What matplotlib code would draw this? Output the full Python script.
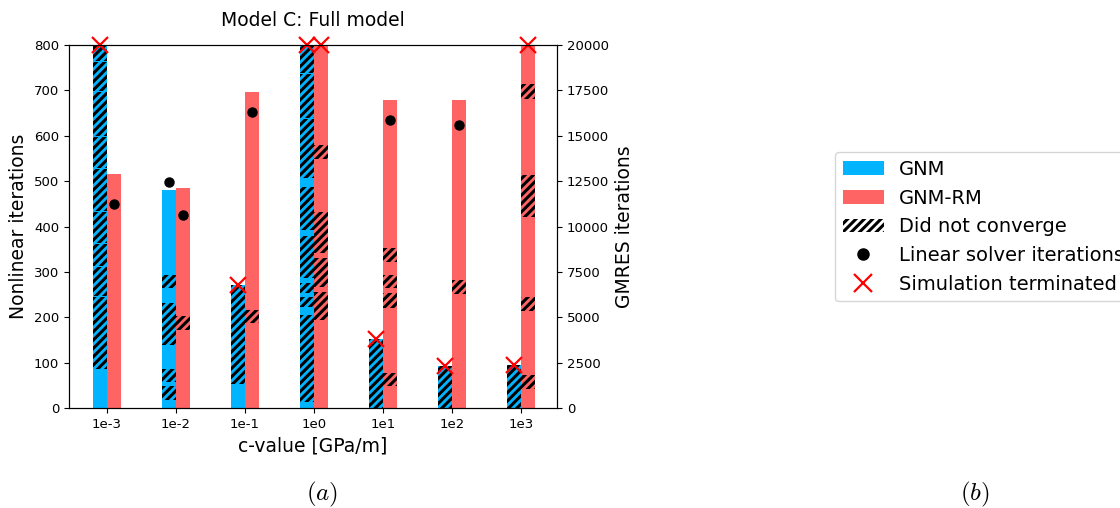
import numpy as np
import matplotlib
matplotlib.use("Agg")
import matplotlib.pyplot as plt
from matplotlib.patches import Patch
from matplotlib.lines import Line2D

plt.rcParams['mathtext.fontset'] = 'cm'
plt.rcParams['hatch.linewidth'] = 2.2

# c-values
c_labels = ['1e-3', '1e-2', '1e-1', '1e0', '1e1', '1e2', '1e3']

# nonlinear iterations
gnm_iters = [800, 480, 271, 800, 153, 93, 95]
rm_iters = [515, 484, 696, 800, 678, 678, 800]

# simulation terminated?
gnm_term = [True, False, True, True, True, True, True]
rm_term = [False, False, False, True, False, False, True]

# GMRES iterations (nan = not shown)
gnm_gmres = [np.nan, 12470, np.nan, np.nan, np.nan, np.nan, np.nan]
rm_gmres = [11250, 10620, 16325, np.nan, 15850, 15590, np.nan]

# non-converged intervals (in nonlinear iterations)
gnm_fail = [
    [(87, 244), (246, 310), (312, 362), (364, 432), (434, 527), (529, 597), (599, 696), (698, 762), (764, 800)],
    [(18, 48), (58, 87), (139, 231), (264, 293)],
    [(53, 271)],
    [(14, 205), (223, 245), (253, 275), (286, 379), (392, 488), (506, 637), (639, 737), (739, 800)],
    [(0, 153)],
    [(0, 93)],
    [(0, 95)],
]
rm_fail = [
    [],
    [(172, 203)],
    [(187, 217)],
    [(195, 256), (267, 330), (341, 433), (548, 580)],
    [(48, 78), (221, 253), (264, 293), (322, 352)],
    [(251, 281)],
    [(41, 73), (214, 245), (422, 514), (682, 714)],
]

blue = '#00b4ff'
red = '#ff6464'
hatch = '////'

x = np.arange(len(c_labels))
w = 0.2

fig = plt.figure(figsize=(11.2, 5.08), dpi=100)
ax = fig.add_axes([69/1120, 1 - 408/508, (557 - 69)/1120, (408 - 45)/508])
ax2 = ax.twinx()

ax.bar(x - w/2, gnm_iters, w, color=blue)
ax.bar(x + w/2, rm_iters, w, color=red)

for i in range(len(x)):
    for lo, hi in gnm_fail[i]:
        ax.bar(x[i] - w/2, hi - lo, w, bottom=lo, color=blue,
               edgecolor='black', linewidth=0, hatch=hatch)
    for lo, hi in rm_fail[i]:
        ax.bar(x[i] + w/2, hi - lo, w, bottom=lo, color=red,
               edgecolor='black', linewidth=0, hatch=hatch)

gt = np.array(gnm_term)
rt = np.array(rm_term)
ax.plot((x - w/2)[gt], np.array(gnm_iters)[gt], 'x', color='red', ms=11, mew=1.6,
        clip_on=False, zorder=10)
ax.plot((x + w/2)[rt], np.array(rm_iters)[rt], 'x', color='red', ms=11, mew=1.6,
        clip_on=False, zorder=10)

ax2.plot(x - w/2, gnm_gmres, 'o', color='black', ms=6.5)
ax2.plot(x + w/2, rm_gmres, 'o', color='black', ms=6.5)

ax.set_xlim(-0.55, 6.52)
ax.set_ylim(0, 800)
ax2.set_ylim(0, 20000)
ax2.set_yticks(np.arange(0, 20001, 2500))
ax.set_xticks(x, c_labels)
ax.tick_params(labelsize=9.5)
ax2.tick_params(labelsize=9.5)

ax.set_xlabel('c-value [GPa/m]', fontsize=13.5)
ax.set_ylabel('Nonlinear iterations', fontsize=13.5)
ax2.set_ylabel('GMRES iterations', fontsize=13.5)
ax.set_title('Model C: Full model', fontsize=13.5, pad=14)

handles = [
    Patch(facecolor=blue),
    Patch(facecolor=red),
    Patch(facecolor='white', edgecolor='black', linewidth=0, hatch=hatch),
    Line2D([], [], marker='o', color='black', ls='none', ms=8),
    Line2D([], [], marker='x', color='red', ls='none', ms=13, mew=1.6),
]
labels = ['GNM', 'GNM-RM', 'Did not converge', 'Linear solver iterations', 'Simulation terminated']
fig.legend(handles, labels, loc='upper left', bbox_to_anchor=(835/1120, 1 - 152/508),
           borderaxespad=0, fontsize=14, handlelength=2.1)

fig.text(322/1120, 1 - 494/508, r'$(a)$', ha='center', va='center', fontsize=18)
fig.text(975/1120, 1 - 494/508, r'$(b)$', ha='center', va='center', fontsize=18)

fig.savefig('out.png', dpi=100)
